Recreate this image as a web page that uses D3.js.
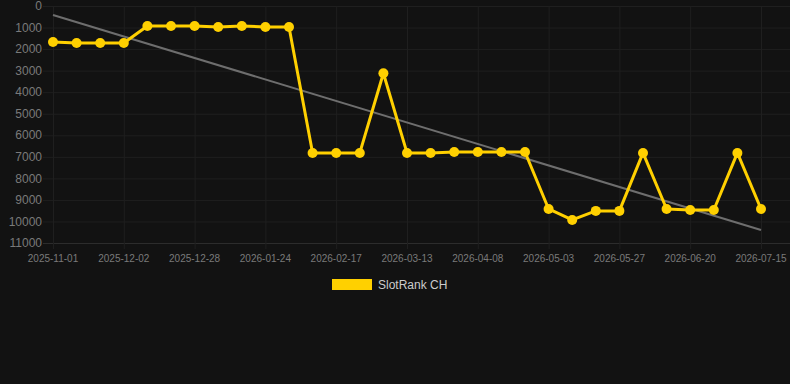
<!DOCTYPE html>
<html>
<head>
<meta charset="utf-8">
<script src="https://cdn.jsdelivr.net/npm/d3@7"></script>
<style>
  html, body { margin: 0; padding: 0; background: #121212; }
  svg { display: block; font-family: "Liberation Sans", Arial, sans-serif; }
</style>
</head>
<body>
<div id="chart"></div>
<script>
// dates on the category axis (only every 3rd is shown)
var dates = [
  "2025-11-01", "2025-11-11", "2025-11-21", "2025-12-02", "2025-12-10", "2025-12-19",
  "2025-12-28", "2026-01-06", "2026-01-15", "2026-01-24", "2026-02-01", "2026-02-09",
  "2026-02-17", "2026-02-25", "2026-03-05", "2026-03-13", "2026-03-22", "2026-03-30",
  "2026-04-08", "2026-04-16", "2026-04-25", "2026-05-03", "2026-05-11", "2026-05-19",
  "2026-05-27", "2026-06-04", "2026-06-12", "2026-06-20", "2026-06-28", "2026-07-07",
  "2026-07-15"
];
var ranks = [
  1670, 1720, 1720, 1720, 930, 930, 930, 975, 930, 975, 975,
  6820, 6820, 6820, 3120, 6820, 6820, 6775, 6775, 6775, 6775,
  9420, 9930, 9510, 9510, 6820, 9420, 9470, 9470, 6820, 9420
];
var yTicks = [0, 1000, 2000, 3000, 4000, 5000, 6000, 7000, 8000, 9000, 10000, 11000];
var seriesName = "SlotRank CH";

var W = 790, H = 384;
var m = {left: 53, right: 761, top: 6, bottom: 243};

var svg = d3.select('#chart').append('svg')
  .attr('width', W)
  .attr('height', H);

var x = d3.scalePoint().domain(dates).range([m.left, m.right]);
var y = d3.scaleLinear().domain([0, 11000]).range([m.top, m.bottom]);

// horizontal grid
svg.append('g')
  .selectAll('line')
  .data(yTicks)
  .enter().append('line')
    .attr('x1', m.left - 10).attr('x2', W)
    .attr('y1', d => y(d) + 0.5).attr('y2', d => y(d) + 0.5)
    .style('stroke', d => d === 11000 ? '#2c2c2c' : '#1f1f1f')
    .style('stroke-width', 1);

// vertical grid at shown ticks
var shown = dates.filter((d, i) => i % 3 === 0);
svg.append('g')
  .selectAll('line')
  .data(shown)
  .enter().append('line')
    .attr('x1', d => x(d) + 0.5).attr('x2', d => x(d) + 0.5)
    .attr('y1', m.top).attr('y2', m.bottom + 6)
    .style('stroke', '#1f1f1f')
    .style('stroke-width', 1);

// y labels
svg.append('g')
  .selectAll('text')
  .data(yTicks)
  .enter().append('text')
    .attr('x', 42)
    .attr('y', d => y(d))
    .attr('dy', '0.35em')
    .attr('text-anchor', 'end')
    .style('font-size', '12px')
    .style('fill', '#7a7a7a')
    .text(d => d);

// x labels
svg.append('g')
  .selectAll('text')
  .data(shown)
  .enter().append('text')
    .attr('x', d => x(d))
    .attr('y', 262)
    .attr('text-anchor', 'middle')
    .style('font-size', '10px')
    .style('fill', '#7a7a7a')
    .text(d => d);

// linear trend (least squares over index)
var n = ranks.length;
var mx = d3.mean(ranks, (d, i) => i);
var my = d3.mean(ranks);
var sxy = d3.sum(ranks, (d, i) => (i - mx) * (d - my));
var sxx = d3.sum(ranks, (d, i) => (i - mx) * (i - mx));
var slope = sxy / sxx;
var icpt = my - slope * mx;
svg.append('line')
  .attr('x1', x(dates[0])).attr('y1', y(icpt))
  .attr('x2', x(dates[n - 1])).attr('y2', y(icpt + slope * (n - 1)))
  .style('stroke', '#6e6e6e')
  .style('stroke-width', 2);

// series line
var line = d3.line()
  .x((d, i) => x(dates[i]))
  .y(d => y(d));
svg.append('path')
  .datum(ranks)
  .attr('d', line)
  .style('fill', 'none')
  .style('stroke', '#ffd000')
  .style('stroke-width', 3)
  .style('stroke-linejoin', 'round');

svg.append('g')
  .selectAll('circle')
  .data(ranks)
  .enter().append('circle')
    .attr('cx', (d, i) => x(dates[i]))
    .attr('cy', d => y(d))
    .attr('r', 5)
    .style('fill', '#ffd000');

// legend
svg.append('rect')
  .attr('x', 332).attr('y', 279)
  .attr('width', 40).attr('height', 11)
  .style('fill', '#ffd000');
svg.append('text')
  .attr('x', 378).attr('y', 285)
  .attr('dy', '0.35em')
  .style('font-size', '12px')
  .style('fill', '#cccccc')
  .text(seriesName);
</script>
</body>
</html>
